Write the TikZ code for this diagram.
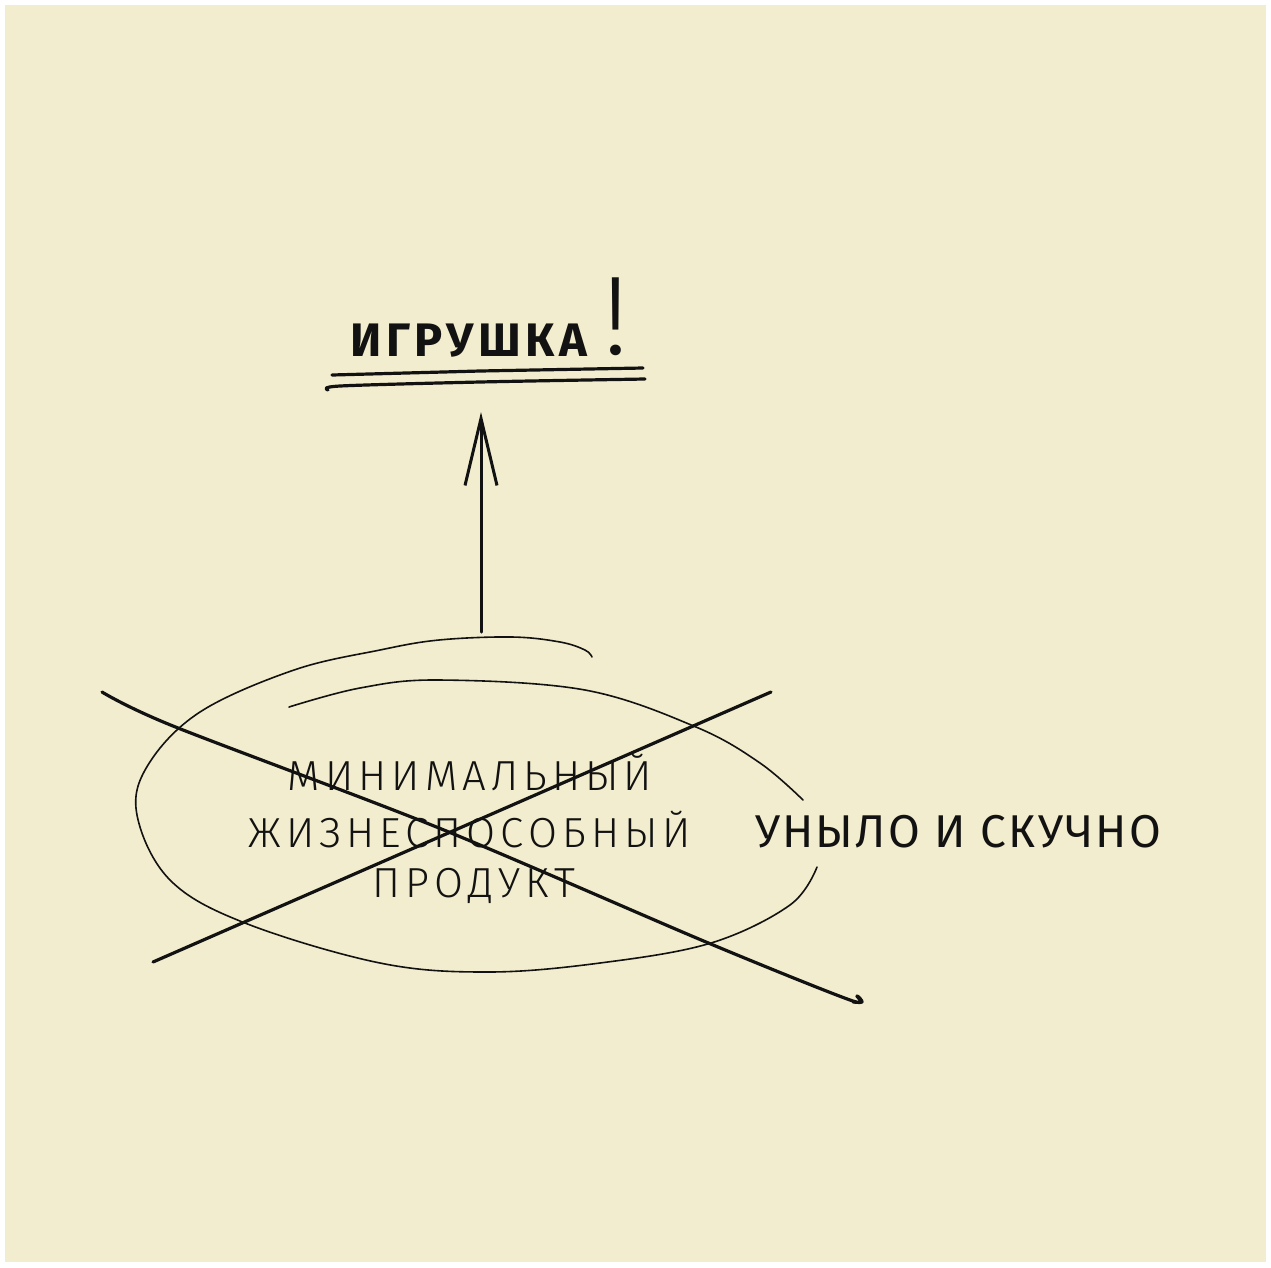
\documentclass[tikz,border=0pt]{standalone}
\usepackage{fontspec}
\usepackage{tikz}
\usetikzlibrary{arrows.meta}
\usepackage{xcolor}
\newfontfamily\handfont{Fira Sans}
\newfontfamily\handlightfont{Fira Sans Light}
\definecolor{paper}{HTML}{F2EDCE}
\definecolor{inkblack}{HTML}{121212}

\begin{document}
\begin{tikzpicture}[x=1pt,y=-1pt,line cap=round,line join=round,
  >={Straight Barb[length=67pt,width=32pt]},
  crossline/.style={draw=inkblack,line width=3.2pt},
  ringline/.style={draw=inkblack,line width=1.6pt},
  underline/.style={draw=inkblack,line width=3.2pt},
  mvptext/.style={anchor=base,inner sep=0pt,text=inkblack,
    font=\handlightfont\fontsize{42}{50}\selectfont\addfontfeature{LetterSpace=12}}]
\fill[white] (0,0) rectangle (1271,1267);
\fill[paper] (5,5) rectangle (1266,1262);
% title
\node[anchor=base west,inner sep=0pt,text=inkblack,
  font=\handfont\bfseries\fontsize{47}{56}\selectfont\addfontfeature{LetterSpace=10}]
  (toy) at (350,356) {ИГРУШКА};
\node[anchor=base,inner sep=0pt,text=inkblack,
  font=\handlightfont\fontsize{112}{120}\selectfont] (bang) at (616,354) {!};
\draw[underline] (332,375) -- (480,371) -- (643,368);
\draw[underline] plot[smooth] coordinates {(328,390) (340,386) (480,382) (645,379)};
% arrow
\coordinate (arrbase) at (481,632);
\coordinate (arrtip) at (481,412);
\draw[->,draw=inkblack,line width=3pt] (arrbase) -- (arrtip);
% ellipse
\draw[ringline] plot[smooth,tension=0.6] coordinates {(289,707) (360,688) (439,680)
  (585,690) (696,727) (760,763) (803,800)};
\draw[ringline] plot[smooth,tension=0.6] coordinates {(817,867) (790,905) (711,943)
  (600,963) (488,972) (380,963) (245,923) (170,880) (137,815) (148,765) (200,712)
  (294,670) (380,650) (439,640) (512,637) (560,642) (585,650) (592,657)};
% text
\node[mvptext] (mvp1) at (470,790) {МИНИМАЛЬНЫЙ};
\node[mvptext] (mvp2) at (470,847) {ЖИЗНЕСПОСОБНЫЙ};
\node[mvptext] (mvp3) at (474,897) {ПРОДУКТ};
\node[anchor=base west,inner sep=0pt,text=inkblack,
  font=\handfont\fontsize{46}{54}\selectfont\addfontfeature{LetterSpace=5}]
  (dull) at (755,847) {УНЫЛО И СКУЧНО};
% cross
\draw[crossline] plot[smooth,tension=0.5] coordinates {(102,692) (173,726) (439,828)
  (706,942) (850,1000) (857,996) (862,1002) (853,1002)};
\draw[crossline] (771,692) -- (153,962);
\end{tikzpicture}
\end{document}
